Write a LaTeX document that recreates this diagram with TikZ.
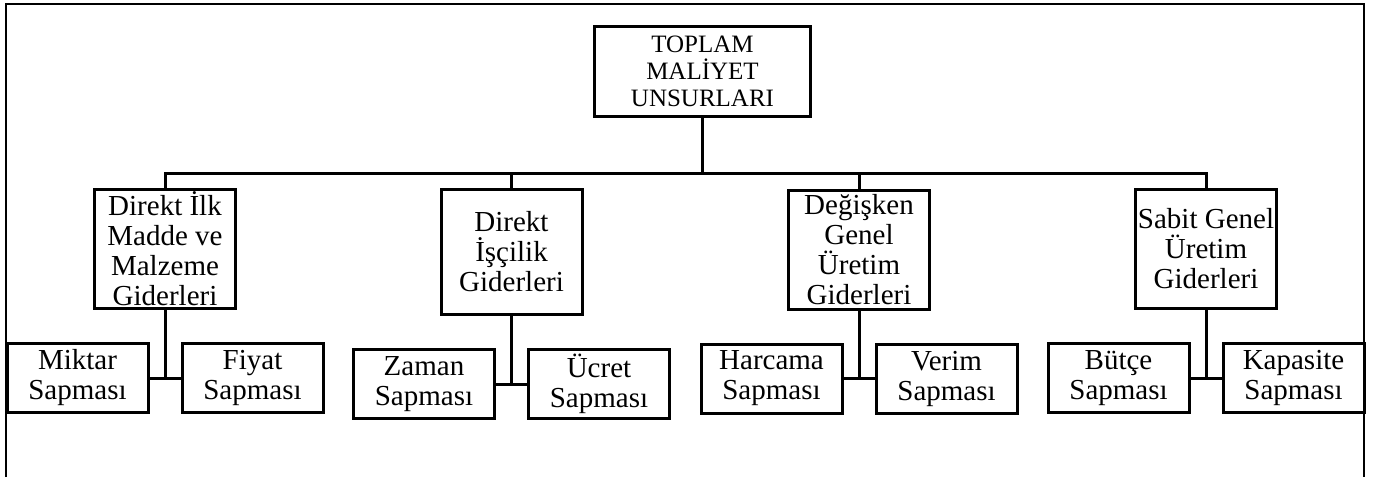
\documentclass[tikz,border=0pt]{standalone}
\usepackage{fontspec}
\setmainfont{Liberation Serif}
\usepackage{tikz}
\usetikzlibrary{positioning}

\begin{document}
\begin{tikzpicture}[x=1pt,y=1pt,node distance=32pt,
	box/.style={draw,line width=3pt,align=center,inner sep=1pt,font=\fontsize{29}{30}\selectfont},
	head/.style={box,minimum width=216pt,minimum height=90pt,font=\fontsize{25}{27.3}\selectfont},
	group/.style={box,minimum width=141pt,minimum height=119pt},
	leaf/.style={box,minimum width=141pt,minimum height=69pt},
	link/.style={line width=3pt},
	frame/.style={line width=2.2pt}]
				\useasboundingbox (0,0) rectangle (1378,-477);
				\draw[frame] (6,-477) |- (1364,-4) -- (1364,-477);
				\node[head] (t_0) at (702.5,-71.5) {TOPLAM\\MALİYET\\UNSURLARI};
				\node[group] (g_1) at (165,-249) {Direkt İlk\\Madde ve\\Malzeme\\Giderleri};
				\node[group,minimum height=125pt] (g_2) at (511.5,-252) {Direkt\\İşçilik\\Giderleri};
				\node[group] (g_3) at (859,-249.5) {Değişken\\Genel\\Üretim\\Giderleri};
				\node[group] (g_4) at (1206,-249) {Sabit Genel\\Üretim\\Giderleri};
				\node[leaf] (s_1) [below left=32pt and 15.5pt of g_1.south] {Miktar\\Sapması};
				\node[leaf] (s_2) [below right=32pt and 15.5pt of g_1.south] {Fiyat\\Sapması};
				\node[leaf] (s_3) [below left=32pt and 15.5pt of g_2.south] {Zaman\\Sapması};
				\node[leaf] (s_4) [below right=32pt and 15.5pt of g_2.south] {Ücret\\Sapması};
				\node[leaf] (s_5) [below left=32pt and 15.5pt of g_3.south] {Harcama\\Sapması};
				\node[leaf] (s_6) [below right=32pt and 15.5pt of g_3.south] {Verim\\Sapması};
				\node[leaf] (s_7) [below left=32pt and 15.5pt of g_4.south] {Bütçe\\Sapması};
				\node[leaf] (s_8) [below right=32pt and 15.5pt of g_4.south] {Kapasite\\Sapması};
				\coordinate (bus) at (0,-173);
				\draw[link] (t_0.south) -- (t_0.south |- bus);
				\draw[link] (g_1.north) |- (bus -| g_4.north) -- (g_4.north);
				\draw[link] (g_2.north) -- (g_2.north |- bus);
				\draw[link] (g_3.north) -- (g_3.north |- bus);
				\draw[link] (g_1.south) -- (g_1.south |- s_1.east);
				\draw[link] (s_1.east) -- (s_2.west);
				\draw[link] (g_2.south) -- (g_2.south |- s_3.east);
				\draw[link] (s_3.east) -- (s_4.west);
				\draw[link] (g_3.south) -- (g_3.south |- s_5.east);
				\draw[link] (s_5.east) -- (s_6.west);
				\draw[link] (g_4.south) -- (g_4.south |- s_7.east);
				\draw[link] (s_7.east) -- (s_8.west);
			\end{tikzpicture}
\end{document}
